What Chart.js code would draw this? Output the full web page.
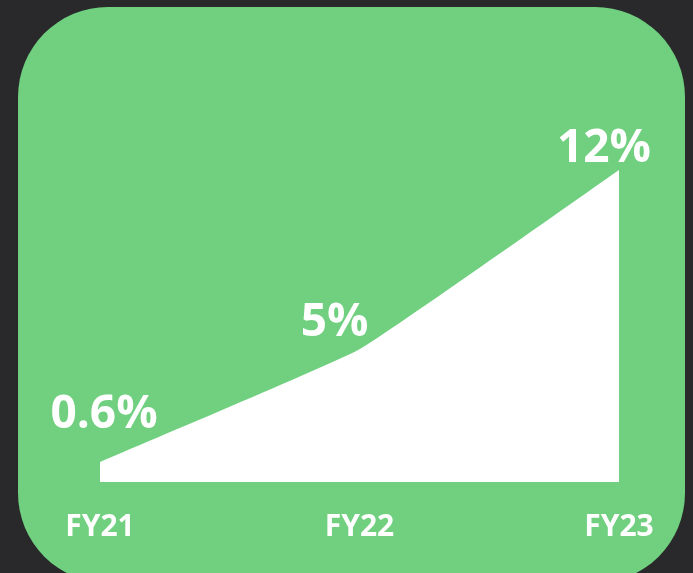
<!DOCTYPE html>
<html>
<head>
<meta charset="utf-8">
<script src="https://cdn.jsdelivr.net/npm/chart.js@4/dist/chart.umd.min.js"></script>
<style>
  html, body { margin: 0; padding: 0; background: #29292b; }
  #wrap { width: 693px; height: 573px; }
</style>
</head>
<body>
<div id="wrap"><canvas id="grafico" width="693" height="573"></canvas></div>
<script>
// dados do gráfico
const anos = ["FY21", "FY22", "FY23"];
const valores = [0.6, 5, 12];
const rotulos = ["0.6%", "5%", "12%"];

// fundo escuro + cartão verde arredondado
const fundoPlugin = {
  id: "fundo",
  beforeDraw(chart) {
    const ctx = chart.ctx;
    ctx.save();
    ctx.fillStyle = "#29292b";
    ctx.fillRect(0, 0, chart.width, chart.height);
    ctx.fillStyle = "#70d07f";
    ctx.beginPath();
    ctx.roundRect(18, 7, 667, 576, 90);
    ctx.fill();
    ctx.restore();
  }
};

// rótulos de porcentagem acima dos pontos
const offsets = [[4, -34], [-25, -13], [-15, -8]];
const rotuloPlugin = {
  id: "rotulos",
  afterDraw(chart) {
    const ctx = chart.ctx;
    const pts = chart.getDatasetMeta(0).data;
    ctx.save();
    ctx.fillStyle = "#ffffff";
    ctx.font = "bold 46px 'Open Sans'";
    ctx.textAlign = "center";
    ctx.textBaseline = "alphabetic";
    pts.forEach((p, i) => {
      ctx.fillText(rotulos[i], p.x + offsets[i][0], p.y + offsets[i][1]);
    });
    ctx.restore();
  }
};

const ctxGrafico = document.getElementById("grafico").getContext("2d");
new Chart(ctxGrafico, {
  type: "line",
  data: {
    labels: anos,
    datasets: [{
      data: valores,
      backgroundColor: "#ffffff",
      borderWidth: 0,
      pointRadius: 0,
      fill: "start",
      tension: 0.1
    }]
  },
  options: {
    responsive: false,
    animation: false,
    layout: { padding: { left: 100, right: 74, top: 170, bottom: 1 } },
    plugins: { legend: { display: false }, tooltip: { enabled: false } },
    scales: {
      x: {
        offset: false,
        grid: { display: false, drawTicks: false },
        border: { display: false },
        ticks: {
          color: "#ffffff",
          padding: 27,
          maxRotation: 0,
          font: { family: "'Open Sans'", size: 30, weight: "bold" }
        }
      },
      y: {
        display: false,
        min: -0.18,
        max: 12
      }
    }
  },
  plugins: [fundoPlugin, rotuloPlugin]
});
</script>
</body>
</html>
